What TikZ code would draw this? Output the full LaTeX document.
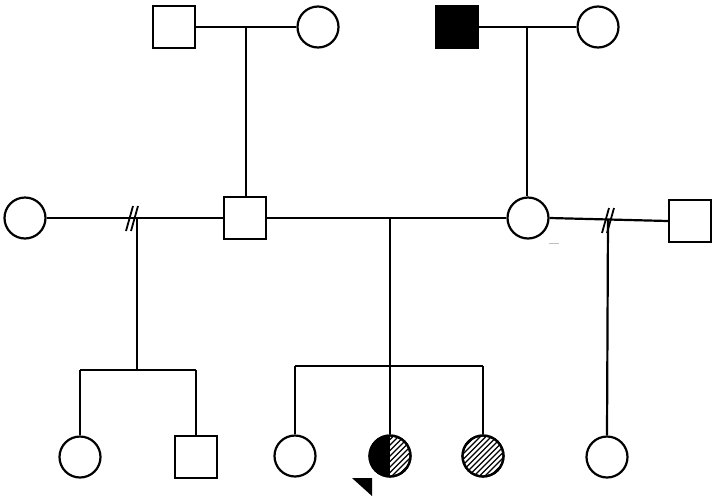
\documentclass[tikz,border=0pt]{standalone}
\usetikzlibrary{calc}
\begin{document}
\begin{tikzpicture}[x=1pt,y=-1pt,
  line width=2.2pt,
  male/.style={draw,rectangle,minimum size=42pt,inner sep=0pt,fill=white},
  female/.style={draw,circle,minimum size=41pt,inner sep=0pt,fill=white},
  affected/.style={fill=black},
  link/.style={draw,line width=2.2pt},
  divorce/.style={line width=1.8pt},
  hatch/.style={line width=1.3pt}
]
\useasboundingbox (0,0) rectangle (718,499);

% first generation
\node[male] (gf1) at (174,27) {};
\node[female] (gm1) at (318,27) {};
\node[male,affected] (gf2) at (457,27) {};
\node[female] (gm2) at (598,27) {};

% second generation
\node[female] (exw) at (25,218) {};
\node[male] (fa) at (245,218) {};
\node[female] (mo) at (528,218) {};
\node[male] (exh) at (690,221) {};

% third generation
\node[female] (c1) at (80,457) {};
\node[male] (c2) at (196,457) {};
\node[female] (c3) at (295,456) {};
\node[female] (c4) at (390,456) {};
\node[female] (c5) at (483,456) {};
\node[female] (c6) at (607,457) {};

% marriage lines
\draw[link] (gf1) -- (gm1);
\draw[link] (gf2) -- (gm2);
\draw[link] (exw) -- (fa);
\draw[link] (fa) -- (mo);
\draw[link] (mo.east) -- (exh.west);

% descent from the first generation
\coordinate (m1) at (246,27);
\coordinate (m2) at (527,27);
\draw[link] (m1) -- (fa.north -| m1);
\draw[link] (m2) -- (mo.north -| m2);

% first marriage of the father (divorced)
\coordinate (d1) at (137,218);
\coordinate (s1) at (137,370);
\coordinate (s1l) at (80,370);
\coordinate (s1r) at (196,370);
\draw[divorce] (126,231) -- (133,206);
\draw[divorce] (131,231) -- (138,206);
\draw[link] (d1) -- (s1);
\draw[link] (s1l) -- (s1r);
\draw[link] (s1l) -- (c1.north);
\draw[link] (s1r) -- (c2.north);

% current marriage
\coordinate (d2) at (390,218);
\coordinate (s2l) at (295,366);
\coordinate (s2r) at (483,366);
\draw[link] (d2) -- (c4.north);
\draw[link] (s2l) -- (s2r);
\draw[link] (s2l) -- (c3.north);
\draw[link] (s2r) -- (c5.north);

% second marriage of the mother (divorced)
\coordinate (d3) at (608,220);
\draw[divorce] (602,233) -- (609,208);
\draw[divorce] (607,233) -- (614,208);
\draw[link] (d3) -- (c6.north);

% half affected daughter: left half solid, right half hatched
\begin{scope}
  \clip (c4.center) circle[radius=20.5pt];
  \fill ($(c4.center)+(-25,-25)$) rectangle ($(c4.center)+(0,25)$);
  \begin{scope}[hatch]
    \foreach \i in {-44,-38.5,...,45}
      \draw ($(c4.center)+(\i-25,25)$) -- ($(c4.center)+(\i+25,-25)$);
  \end{scope}
\end{scope}
\draw (c4.center) circle[radius=20.5pt];

% hatched daughter
\begin{scope}
  \clip (c5.center) circle[radius=20.5pt];
  \begin{scope}[hatch]
    \foreach \i in {-44,-38.5,...,45}
      \draw ($(c5.center)+(\i-25,25)$) -- ($(c5.center)+(\i+25,-25)$);
  \end{scope}
\end{scope}
\draw (c5.center) circle[radius=20.5pt];

% proband marker
\coordinate (pb) at (372,478);
\fill (pb) -- ++(-20,0) -- ++(20,18) -- cycle;

% faint stray mark
\draw[black!25,line width=1pt] (549,243) -- (559,243);
\end{tikzpicture}
\end{document}
